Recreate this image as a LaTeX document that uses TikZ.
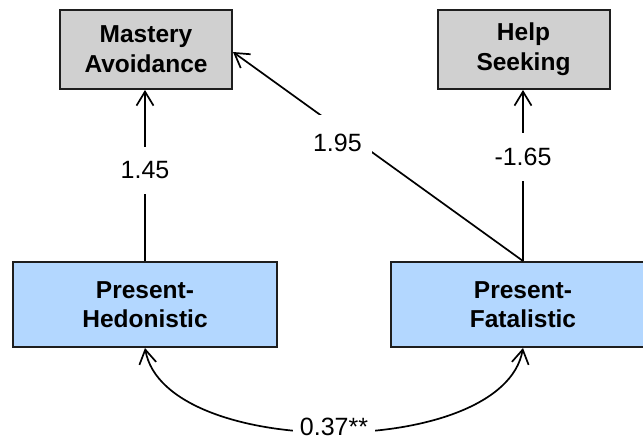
\documentclass[tikz,border=0pt]{standalone}
\usepackage{fontspec}
\setmainfont{Liberation Sans}
\usetikzlibrary{arrows.meta}

\definecolor{outcomefill}{RGB}{208,208,208}
\definecolor{predfill}{RGB}{179,215,255}
\definecolor{boxline}{RGB}{30,30,30}

\tikzset{
  outcome/.style={draw=boxline, line width=2pt, fill=outcomefill, rectangle,
    minimum width=172pt, minimum height=79pt, align=center,
    font=\fontsize{24.5}{30}\selectfont\bfseries},
  predictor/.style={draw=boxline, line width=2pt, fill=predfill, rectangle,
    minimum width=264pt, minimum height=85pt, align=center,
    font=\fontsize{24.5}{29}\selectfont\bfseries},
  path/.style={line width=1.7pt, -{Straight Barb[length=14pt,width=17pt,line width=1.7pt]}},
  covpath/.style={line width=1.7pt, {Straight Barb[length=14pt,width=17pt,line width=1.7pt]}-{Straight Barb[length=14pt,width=17pt,line width=1.7pt]}},
  coef/.style={fill=white, inner xsep=5pt, inner ysep=15pt,
    font=\fontsize{25}{30}\selectfont}
}

\begin{document}
\begin{tikzpicture}[x=1pt, y=-1pt]
  \clip (0,0) rectangle (643,441);
  \fill[white] (0,0) rectangle (643,441);

  % outcome variables
  \node[outcome] (mast) at (146,49.5) {Mastery\\Avoidance};
  \node[outcome] (help) at (523.5,49.5) {Help\\Seeking};

  % time perspective predictors
  \node[predictor] (hed) at (145,304.5) {Present-\\Hedonistic};
  \node[predictor] (fat) at (523,304.5) {Present-\\Fatalistic};

  % regression paths
  \draw[path] (hed.north) -- node[coef, pos=0.53] {1.45} (hed.north |- mast.south);
  \draw[path] (fat.north) -- node[coef, pos=0.61] {-1.65} (fat.north |- help.south);
  \draw[path] (fat.north) -- node[coef, pos=0.64, yshift=-16pt, inner xsep=10pt, inner ysep=19pt] {1.95} ([yshift=-2.5pt]mast.east);

  % correlation between predictors
  \draw[covpath] (hed.south) .. controls +(20,112) and +(-20,112) .. (fat.south)
    node[coef, pos=0.5, yshift=5pt, inner xsep=6.5pt, inner ysep=5pt] {0.37**};
\end{tikzpicture}
\end{document}
